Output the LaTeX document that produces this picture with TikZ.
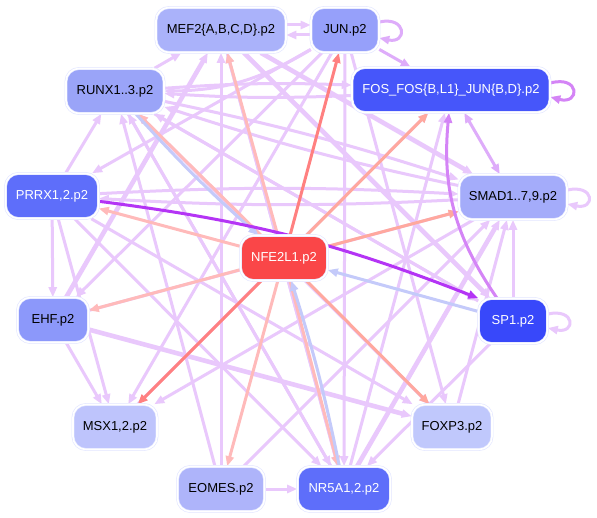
\documentclass[tikz,border=0pt]{standalone}
\usepackage{fontspec}
\setmainfont{Liberation Sans}
\usetikzlibrary{arrows.meta}
\definecolor{lav}{RGB}{233,200,252}
\definecolor{lavdark}{RGB}{222,172,250}
\definecolor{pinkc}{RGB}{255,186,186}
\definecolor{salmon}{RGB}{255,168,158}
\definecolor{redc}{RGB}{255,128,128}
\definecolor{bluec}{RGB}{196,202,250}
\definecolor{purc}{RGB}{180,52,245}
\definecolor{mpurc}{RGB}{212,132,246}
\definecolor{nodeline}{RGB}{226,230,255}
\definecolor{cmef}{RGB}{170,178,250}
\definecolor{cjun}{RGB}{150,160,250}
\definecolor{cfos}{RGB}{70,86,250}
\definecolor{crunx}{RGB}{154,164,248}
\definecolor{cprrx}{RGB}{94,110,250}
\definecolor{csmad}{RGB}{164,172,250}
\definecolor{cnfe}{RGB}{250,70,72}
\definecolor{cehf}{RGB}{140,152,250}
\definecolor{csp}{RGB}{56,72,250}
\definecolor{cmsx}{RGB}{190,196,252}
\definecolor{cfoxp}{RGB}{192,200,252}
\definecolor{ceomes}{RGB}{174,180,250}
\definecolor{cnr}{RGB}{94,110,250}
\pgfdeclarelayer{fond}
\pgfdeclarelayer{aretes}
\pgfsetlayers{fond,aretes,main}

\begin{document}
\begin{tikzpicture}[x=1pt,y=1pt,
  gnode/.style={rounded corners=13pt,minimum height=45pt,inner sep=0pt,
    font=\fontsize{13}{15}\selectfont,draw=nodeline,line width=0.6pt,
    double=white,double distance=1.6pt},
  arc/.style={line width=3pt,-{Triangle[length=10pt,width=8pt]}},
  thickarc/.style={arc,line width=4.6pt}]
  % --- Cadre ---
  \begin{pgfonlayer}{fond}
    \fill[white] (0,0) rectangle (597,-518);
  \end{pgfonlayer}
  \useasboundingbox (0,0) rectangle (597,-518);

  % --- Noeuds ---
  \node[gnode,fill=cmef,minimum width=130pt]   (mef)   at (221,-30)  {MEF2\{A,B,C,D\}.p2};
  \node[gnode,fill=cjun,minimum width=68pt]    (jun)   at (345,-30)  {JUN.p2};
  \node[gnode,fill=cfos,minimum width=198pt,text=white] (fos) at (451,-90) {FOS\_FOS\{B,L1\}\_JUN\{B,D\}.p2};
  \node[gnode,fill=crunx,minimum width=98pt]   (runx)  at (115,-91)  {RUNX1..3.p2};
  \node[gnode,fill=cprrx,minimum width=93pt,text=white] (prrx) at (52,-196) {PRRX1,2.p2};
  \node[gnode,fill=csmad,minimum width=108pt]  (smad)  at (513,-197) {SMAD1..7,9.p2};
  \node[gnode,fill=cnfe,minimum width=87pt,text=white]  (nfe)  at (284,-258) {NFE2L1.p2};
  \node[gnode,fill=cehf,minimum width=71pt]    (ehf)   at (53,-320)  {EHF.p2};
  \node[gnode,fill=csp,minimum width=69pt,text=white]   (sp)   at (513,-321) {SP1.p2};
  \node[gnode,fill=cmsx,minimum width=84pt]    (msx)   at (115,-427) {MSX1,2.p2};
  \node[gnode,fill=cfoxp,minimum width=80pt]   (foxp)  at (452,-427) {FOXP3.p2};
  \node[gnode,fill=ceomes,minimum width=87pt]  (eomes) at (221,-489) {EOMES.p2};
  \node[gnode,fill=cnr,minimum width=93pt,text=white]   (nr)   at (344,-489) {NR5A1,2.p2};

  \begin{pgfonlayer}{aretes}
  % --- Aretes lavande ---
  \foreach \a/\b in {runx/mef,jun/prrx,jun/ehf,jun/msx,jun/nr,mef/nr,eomes/runx,eomes/mef,
    eomes/smad,prrx/runx,prrx/ehf,prrx/msx,prrx/nr,prrx/foxp,ehf/msx,ehf/smad,smad/msx,
    sp/runx,foxp/runx,nr/runx,nr/fos,foxp/smad,runx/foxp,msx/fos,nr/mef,runx/nr,runx/sp,
    sp/nr,jun/foxp,eomes/nr,sp/smad}
    \draw[arc,lav] (\a) -- (\b);
  \foreach \a/\b in {runx/fos,fos/runx,runx/smad,smad/runx,prrx/smad,smad/prrx}
    \draw[arc,lav] (\a) to[bend left=3] (\b);
  \foreach \a/\b in {mef/smad,mef/sp,ehf/mef,ehf/foxp,nr/smad}
    \draw[thickarc,lav] (\a) -- (\b);
  \draw[arc,lav] ([yshift=5pt]mef.east) -- ([yshift=5pt]jun.west);
  \draw[arc,lav] ([yshift=-5pt]jun.west) -- ([yshift=-5pt]mef.east);
  \draw[arc,lav] (jun) to[bend left=15] (runx);

  % --- Aretes rouges et bleues (NFE2L1) ---
  \foreach \b/\c in {mef/pinkc,jun/redc,fos/salmon,runx/pinkc,prrx/pinkc,smad/salmon,
    ehf/pinkc,msx/redc,eomes/pinkc,nr/pinkc,foxp/salmon}
    \draw[arc,\c] (nfe) -- (\b);
  \draw[arc,bluec] (runx) to[bend right=3] (nfe);
  \draw[arc,bluec] (nr) to[bend right=3] (nfe);
  \draw[arc,bluec] (sp) -- (nfe);

  % --- Aretes violettes ---
  \draw[arc,purc] (prrx) to[bend left=7] (sp.north west);
  \draw[arc,mpurc] (sp) to[bend left=20] (fos);
  \draw[arc,lavdark] (jun) -- (fos);
  \draw[lavdark,line width=3pt,{Triangle[length=10pt,width=8pt]}-{Triangle[length=10pt,width=8pt]}] (fos) -- (smad);

  % --- Boucles ---
  \draw[arc,mpurc] ([yshift=7pt]fos.east) .. controls +(30,8) and +(30,-8) .. ([yshift=-7pt]fos.east);
  \draw[arc,lavdark] ([yshift=8pt]jun.east) .. controls +(28,6) and +(28,-6) .. ([yshift=-8pt]jun.east);
  \draw[arc,lav] ([yshift=7pt]smad.east) .. controls +(28,6) and +(28,-6) .. ([yshift=-7pt]smad.east);
  \draw[arc,lav] ([yshift=7pt]sp.east) .. controls +(28,6) and +(28,-6) .. ([yshift=-7pt]sp.east);
  \end{pgfonlayer}
\end{tikzpicture}
\end{document}
